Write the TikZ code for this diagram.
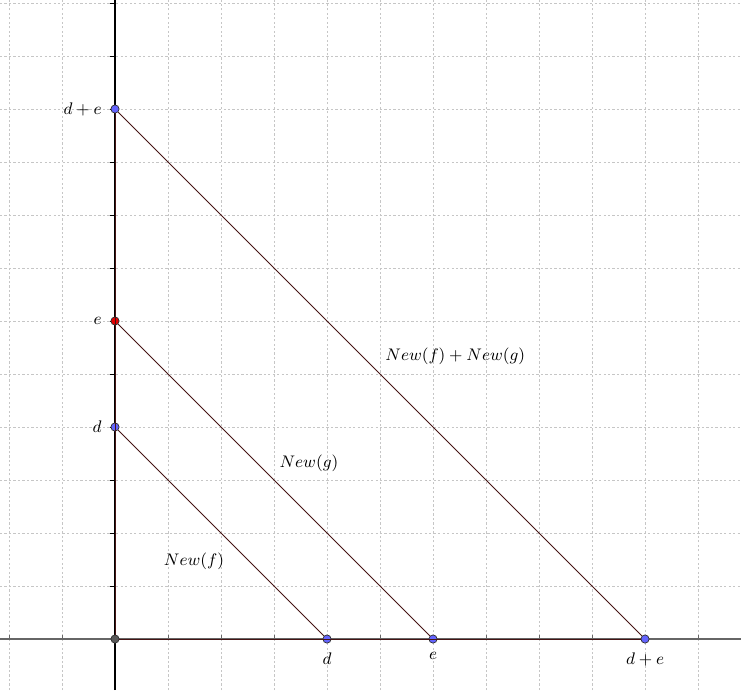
\documentclass[tikz,border=0pt]{standalone}
\begin{document}
\begin{tikzpicture}[x=1cm,y=1cm,
  gridline/.style={gray!45,dash pattern=on 1.2pt off 1.2pt,line width=0.45pt},
  seg/.style={draw={rgb,255:red,70;green,20;blue,20},line width=0.5pt},
  pt/.style={circle,draw=black!80,fill={rgb,255:red,100;green,100;blue,255},inner sep=0pt,minimum size=4.4pt,line width=0.4pt},
  ptred/.style={pt,fill={rgb,255:red,230;green,0;blue,0}},
  ptorg/.style={pt,fill=black!65},
  lab/.style={inner sep=1pt,font=\small}]
\useasboundingbox (-2.170,-0.962) rectangle (11.811,12.057);
\draw[gridline] (-2,-0.962) -- (-2,12.057);
\foreach \i in {-1,...,11} \draw[gridline] (\i,-0.962) -- (\i,12.057);
\foreach \j in {1,...,12} \draw[gridline] (-2.17,\j) -- (11.811,\j);
% axes
\draw[gray!80!black,line width=0.7pt] (-2.17,0) -- (11.811,0);
\draw[black,line width=0.7pt] (0,-0.962) -- (0,12.057);
\foreach \i in {-2,-1,1,2,...,11} \draw[gray!80!black,line width=0.5pt] (\i,0) -- (\i,0.07);
\foreach \j in {1,...,12} \draw[black,line width=0.5pt] (0,\j) -- (-0.1,\j);
% nodes
\node[ptorg] (O) at (0,0) {};
\node[pt] (dx) at (4,0) {};
\node[pt] (ex) at (6,0) {};
\node[pt] (dex) at (10,0) {};
\node[pt] (dy) at (0,4) {};
\node[ptred] (ey) at (0,6) {};
\node[pt] (dey) at (0,10) {};
% segments
\draw[seg] (O) -- (dex);
\draw[seg] (O) -- (dey);
\draw[seg] (dy) -- (dx);
\draw[seg] (ey) -- (ex);
\draw[seg] (dey) -- (dex);
% labels
\node[lab,below=6pt] (ldx) at (dx) {$d$};
\node[lab,below=6pt] (lex) at (ex) {$e$};
\node[lab,below=6pt] (ldex) at (dex) {$d+e$};
\node[lab,left=6pt] (ldy) at (dy) {$d$};
\node[lab,left=6pt] (ley) at (ey) {$e$};
\node[lab,left=6pt] (ldey) at (dey) {$d+e$};
\node[lab] (nf) at (1.49,1.47) {$New(f)$};
\node[lab] (ng) at (3.66,3.32) {$New(g)$};
\node[lab] (nfg) at (6.42,5.34) {$New(f)+New(g)$};
\end{tikzpicture}
\end{document}
